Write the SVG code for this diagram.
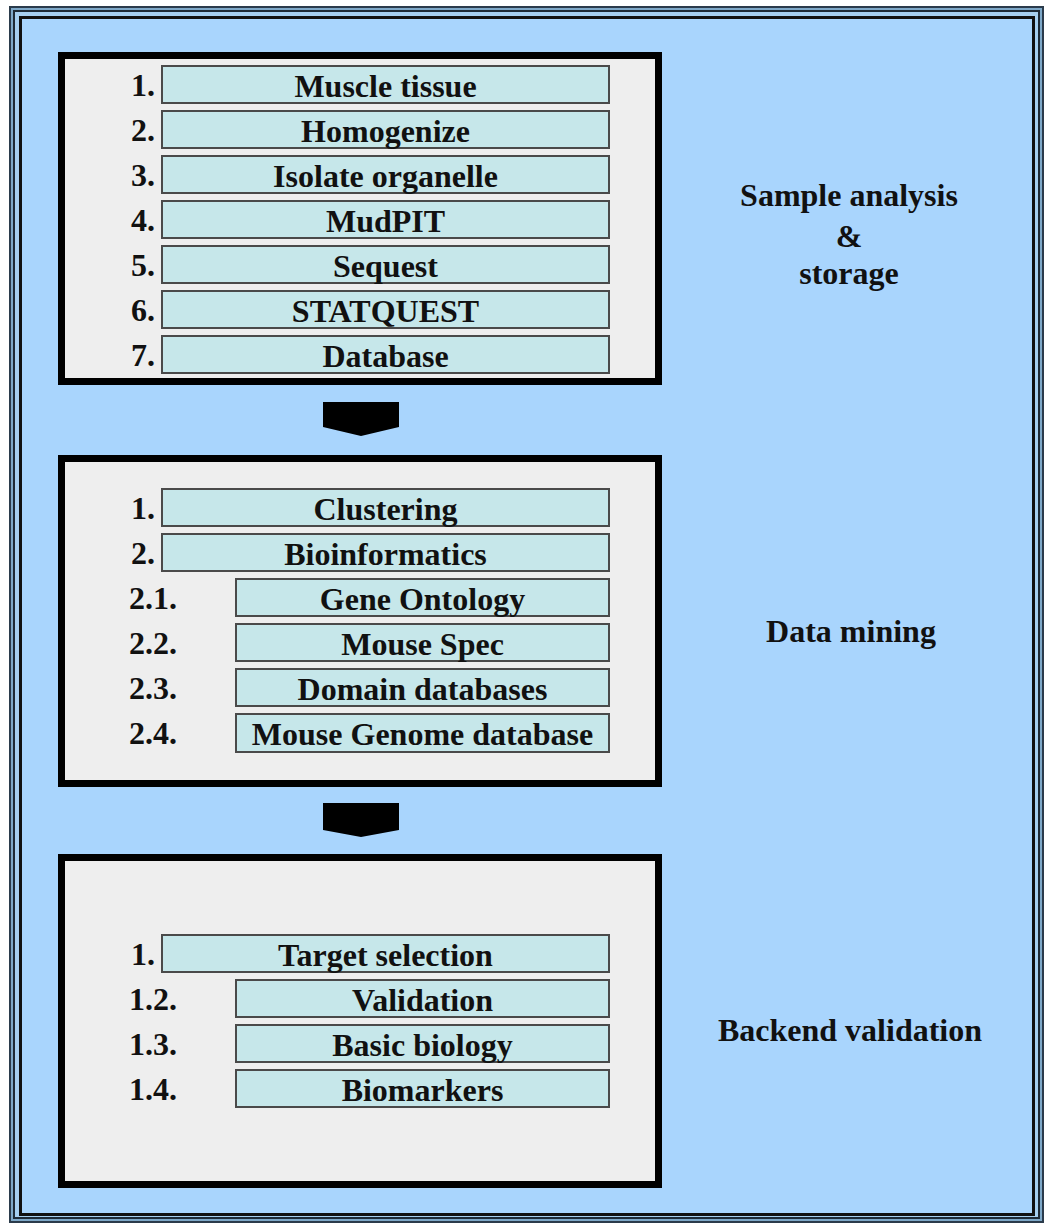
<svg xmlns="http://www.w3.org/2000/svg" width="1047" height="1226" viewBox="0 0 1047 1226">
<defs>
<style>
.panel{fill:#eeeeee;stroke:#000;stroke-width:7}
.box{fill:#c6e7ea;stroke:#4a4a4a;stroke-width:2}
.t{font-family:"Liberation Serif","Times New Roman",serif;font-weight:bold;font-size:32px;fill:#111}
.c{text-anchor:middle}
.chev{fill:#000}
</style>
</defs>
<rect x="0" y="0" width="1047" height="1226" fill="#ffffff"/>
<g id="frame">
<rect x="9" y="6" width="1035" height="1217" fill="#2b3b4b"/>
<rect x="11" y="8" width="1031" height="1213" fill="#7ea8c8"/>
<rect x="14" y="11" width="1025" height="1207" fill="#a6cff0" stroke="#1e2a36" stroke-width="2"/>
<rect x="20.5" y="17.5" width="1013" height="1197" fill="#a9d5fd" stroke="#111" stroke-width="3"/>
</g>
<g id="panel-sample">
<rect class="panel" x="61.5" y="55.5" width="597" height="326"/>
<rect class="box" x="162" y="66" width="447" height="37"/><text class="t" x="155" y="96" text-anchor="end">1.</text><text class="t c" x="385.5" y="97">Muscle tissue</text>
<rect class="box" x="162" y="111" width="447" height="37"/><text class="t" x="155" y="141" text-anchor="end">2.</text><text class="t c" x="385.5" y="142">Homogenize</text>
<rect class="box" x="162" y="156" width="447" height="37"/><text class="t" x="155" y="186" text-anchor="end">3.</text><text class="t c" x="385.5" y="187">Isolate organelle</text>
<rect class="box" x="162" y="201" width="447" height="37"/><text class="t" x="155" y="231" text-anchor="end">4.</text><text class="t c" x="385.5" y="232">MudPIT</text>
<rect class="box" x="162" y="246" width="447" height="37"/><text class="t" x="155" y="276" text-anchor="end">5.</text><text class="t c" x="385.5" y="277">Sequest</text>
<rect class="box" x="162" y="291" width="447" height="37"/><text class="t" x="155" y="321" text-anchor="end">6.</text><text class="t c" x="385.5" y="322">STATQUEST</text>
<rect class="box" x="162" y="336" width="447" height="37"/><text class="t" x="155" y="366" text-anchor="end">7.</text><text class="t c" x="385.5" y="367">Database</text>
</g>
<g id="label-sample">
<text class="t c" x="849" y="206">Sample analysis</text>
<text class="t c" x="849" y="247">&amp;</text>
<text class="t c" x="849" y="284">storage</text>
</g>
<g id="panel-mining">
<rect class="panel" x="61.5" y="458.5" width="597" height="325"/>
<rect class="box" x="162" y="489" width="447" height="37"/><text class="t" x="155" y="519" text-anchor="end">1.</text><text class="t c" x="385.5" y="520">Clustering</text>
<rect class="box" x="162" y="534" width="447" height="37"/><text class="t" x="155" y="564" text-anchor="end">2.</text><text class="t c" x="385.5" y="565">Bioinformatics</text>
<rect class="box" x="236" y="579" width="373" height="37"/><text class="t" x="129" y="609">2.1.</text><text class="t c" x="422.5" y="610">Gene Ontology</text>
<rect class="box" x="236" y="624" width="373" height="37"/><text class="t" x="129" y="654">2.2.</text><text class="t c" x="422.5" y="655">Mouse Spec</text>
<rect class="box" x="236" y="669" width="373" height="37"/><text class="t" x="129" y="699">2.3.</text><text class="t c" x="422.5" y="700">Domain databases</text>
<rect class="box" x="236" y="714" width="373" height="38"/><text class="t" x="129" y="744">2.4.</text><text class="t c" x="422.5" y="745">Mouse Genome database</text>
</g>
<g id="label-mining">
<text class="t c" x="851" y="642">Data mining</text>
</g>
<g id="panel-backend">
<rect class="panel" x="61.5" y="857.5" width="597" height="327"/>
<rect class="box" x="162" y="935" width="447" height="37"/><text class="t" x="155" y="965" text-anchor="end">1.</text><text class="t c" x="385.5" y="966">Target selection</text>
<rect class="box" x="236" y="980" width="373" height="37"/><text class="t" x="129" y="1010">1.2.</text><text class="t c" x="422.5" y="1011">Validation</text>
<rect class="box" x="236" y="1025" width="373" height="37"/><text class="t" x="129" y="1055">1.3.</text><text class="t c" x="422.5" y="1056">Basic biology</text>
<rect class="box" x="236" y="1070" width="373" height="37"/><text class="t" x="129" y="1100">1.4.</text><text class="t c" x="422.5" y="1101">Biomarkers</text>
</g>
<g id="label-backend">
<text class="t c" x="850" y="1041">Backend validation</text>
</g>
<g id="connectors">
<polygon class="chev" points="323,402 399,402 399,427 361,436 323,427"/>
<polygon class="chev" points="323,803 399,803 399,830 361,837 323,830"/>
</g>
</svg>
